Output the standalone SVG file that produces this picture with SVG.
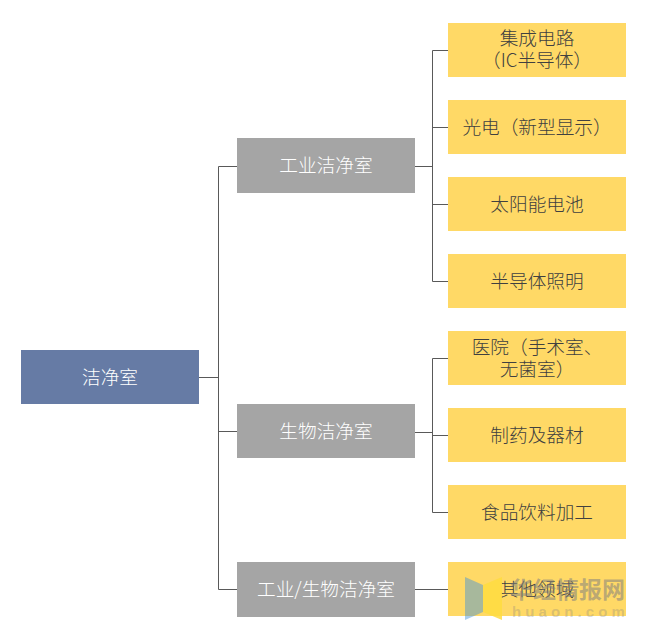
<svg xmlns="http://www.w3.org/2000/svg" width="647" height="640" viewBox="0 0 647 640">
<style>
text{font-family:"Noto Sans CJK SC","Liberation Sans",sans-serif;font-size:18.67px;font-weight:300;text-anchor:middle}
.y rect{fill:#ffd966}
.y text{fill:#404040}
.g rect{fill:#a5a5a5}
.g text{fill:#fff}
#conn path{fill:none;stroke:#595959;stroke-width:1}
#mark text{font-family:"Noto Sans CJK SC","Liberation Sans",sans-serif;fill:#7f7f7f;fill-opacity:.55;text-anchor:start}
</style>
<rect width="647" height="640" fill="#fff"/>
<g id="conn">
<path d="M199 377.500H218.500M218.500 166.500V589.500M218.500 166.500H237M218.500 431.500H237M218.500 589.500H237"/>
<path d="M415 166.500H432.500M432.500 50.500V281.500M432.500 50.500H448M432.500 127.500H448M432.500 204.500H448M432.500 281.500H448"/>
<path d="M415 432.500H432.500M432.500 358.500V512.500M432.500 358.500H448M432.500 435.500H448M432.500 512.500H448"/>
<path d="M415 589.500H448"/>
</g>
<g id="root"><rect x="21" y="350" width="178" height="54" fill="#667ba5"/><text x="110" y="384" fill="#fff">洁净室</text></g>
<g id="n1" class="g"><rect x="237" y="138" width="178" height="55"/><text x="326" y="172">工业洁净室</text></g>
<g id="n2" class="g"><rect x="237" y="404" width="178" height="54"/><text x="326" y="438">生物洁净室</text></g>
<g id="n3" class="g"><rect x="237" y="562" width="178" height="55"/><text x="326" y="596">工业/生物洁净室</text></g>
<g id="a1" class="y"><rect x="448" y="23" width="178" height="54"/><text><tspan x="537" y="45">集成电路</tspan><tspan x="537" y="67">（IC半导体）</tspan></text></g>
<g id="a2" class="y"><rect x="448" y="100" width="178" height="54"/><text x="537" y="134">光电（新型显示）</text></g>
<g id="a3" class="y"><rect x="448" y="177" width="178" height="54"/><text x="537" y="211">太阳能电池</text></g>
<g id="a4" class="y"><rect x="448" y="254" width="178" height="54"/><text x="537" y="288">半导体照明</text></g>
<g id="b1" class="y"><rect x="448" y="331" width="178" height="54"/><text><tspan x="537" y="354">医院（手术室、</tspan><tspan x="537" y="376">无菌室）</tspan></text></g>
<g id="b2" class="y"><rect x="448" y="408" width="178" height="54"/><text x="537" y="442">制药及器材</text></g>
<g id="b3" class="y"><rect x="448" y="485" width="178" height="54"/><text x="537" y="519">食品饮料加工</text></g>
<g id="c1" class="y"><rect x="448" y="562" width="178" height="54"/><text x="537" y="596">其他领域</text></g>
<g id="mark">
<polygon points="465,577 483,585 483,612 465,620" fill="#3c90de" fill-opacity=".45"/>
<polygon points="483,585 502,577 502,620 483,612" fill="#ffdc40" fill-opacity=".85"/>
<text x="510" y="598" style="font-size:23px;font-weight:700">华经情报网</text>
<text x="512" y="617" style="font-family:'Liberation Sans',sans-serif;font-size:15px;letter-spacing:4.1px;fill-opacity:.3;font-weight:700">huaon.com</text>
</g>
</svg>
